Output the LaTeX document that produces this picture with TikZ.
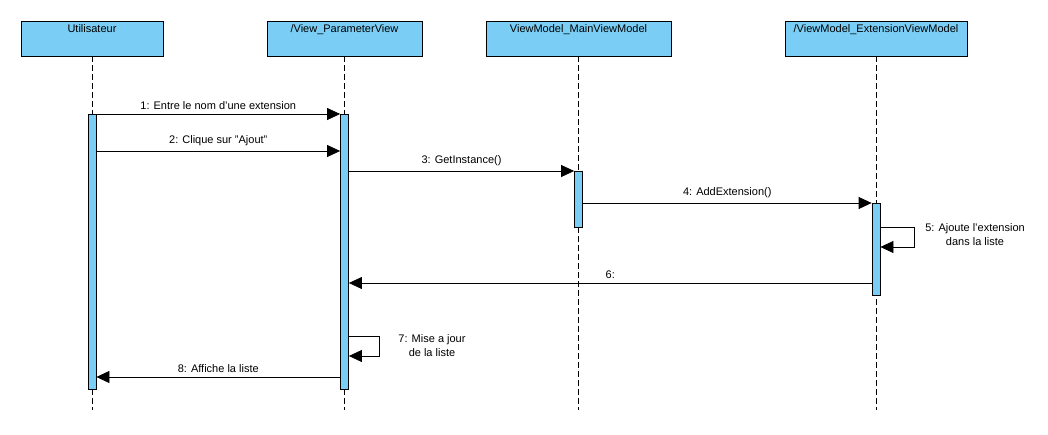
\documentclass[tikz,border=0pt]{standalone}
\usepackage{fontspec}
\setmainfont{Liberation Sans}
\usetikzlibrary{arrows.meta}
\definecolor{lifeblue}{RGB}{122,206,245}
\begin{document}
\begin{tikzpicture}[x=1pt, y=-1pt,
    font=\fontsize{11}{14}\selectfont,
    head/.style={draw, thick, fill=lifeblue, inner sep=3pt,
        text height=9pt, text depth=20pt},
    act/.style={draw, thick, fill=lifeblue, inner sep=0pt,
        minimum width=8pt, anchor=north},
    life/.style={dash pattern=on 6pt off 3pt},
    msg/.style={thick, -{Triangle[length=13pt, width=12pt]}}]

        \useasboundingbox (0,0) rectangle (1048,435);

        % Lifeline heads
        \node [head, minimum width=142pt] (U) at (92,38.5) {Utilisateur};
        \node [head, minimum width=155pt] (V) at (344.5,38.5) {/View\_ParameterView};
        \node [head, minimum width=185pt] (M) at (578.5,38.5) {ViewModel\_MainViewModel};
        \node [head, minimum width=182pt] (E) at (876,38.5) {/ViewModel\_ExtensionViewModel};

        % Dashed lifelines
        \coordinate (Uend) at (U.south |- 0,410);
        \coordinate (Vend) at (V.south |- 0,410);
        \coordinate (Mend) at (M.south |- 0,410);
        \coordinate (Eend) at (E.south |- 0,410);
        \draw [life] (U.south) -- (Uend);
        \draw [life] (V.south) -- (Vend);
        \draw [life] (M.south) -- (Mend);
        \draw [life] (E.south) -- (Eend);

        % Activation bars
        \node [act, minimum height=275pt] (actU) at (U.south |- 0,114) {};
        \node [act, minimum height=275pt] (actV) at (V.south |- 0,114) {};
        \node [act, minimum height=56pt] (actM) at (M.south |- 0,171) {};
        \node [act, minimum height=92pt] (actE) at (E.south |- 0,203) {};

        % Message ends
        \coordinate (m2a) at (actU.east |- 0,151);
        \coordinate (m2b) at (actV.west |- 0,151);
        \coordinate (m3a) at (actV.east |- 0,171);
        \coordinate (m4a) at (actM.east |- 0,203);
        \coordinate (m5a) at (actE.east |- 0,227);
        \coordinate (m5b) at (actE.east |- 0,247);
        \coordinate (m6a) at (actE.west |- 0,283);
        \coordinate (m6b) at (actV.east |- 0,283);
        \coordinate (m7a) at (actV.east |- 0,336);
        \coordinate (m7b) at (actV.east |- 0,356);
        \coordinate (m8a) at (actV.west |- 0,377);
        \coordinate (m8b) at (actU.east |- 0,377);

        % Messages
        \draw [msg] (actU.north east) -- node[midway, above=1pt] (l1) {1: Entre le nom d'une extension} (actV.north west);
        \draw [msg] (m2a) -- node[midway, above=1pt] (l2) {2: Clique sur "Ajout"} (m2b);
        \draw [msg] (m3a) -- node[midway, above=1pt] (l3) {3: GetInstance()} (actM.north west);
        \draw [msg] (m4a) -- node[midway, above=1pt] (l4) {4: AddExtension()} (actE.north west);
        \draw [msg] (m5a) -- ++(34,0) |- (m5b);
        \node [align=center] (l5) at (975,235) {5: Ajoute l'extension\\dans la liste};
        \draw [msg] (m6a) -- node[midway, above=1pt] (l6) {6:} (m6b);
        \draw [msg] (m7a) -- ++(30,0) |- (m7b);
        \node [align=center] (l7) at (432,345.5) {7: Mise a jour\\de la liste};
        \draw [msg] (m8a) -- node[midway, above=1pt] (l8) {8: Affiche la liste} (m8b);

\end{tikzpicture}
\end{document}
